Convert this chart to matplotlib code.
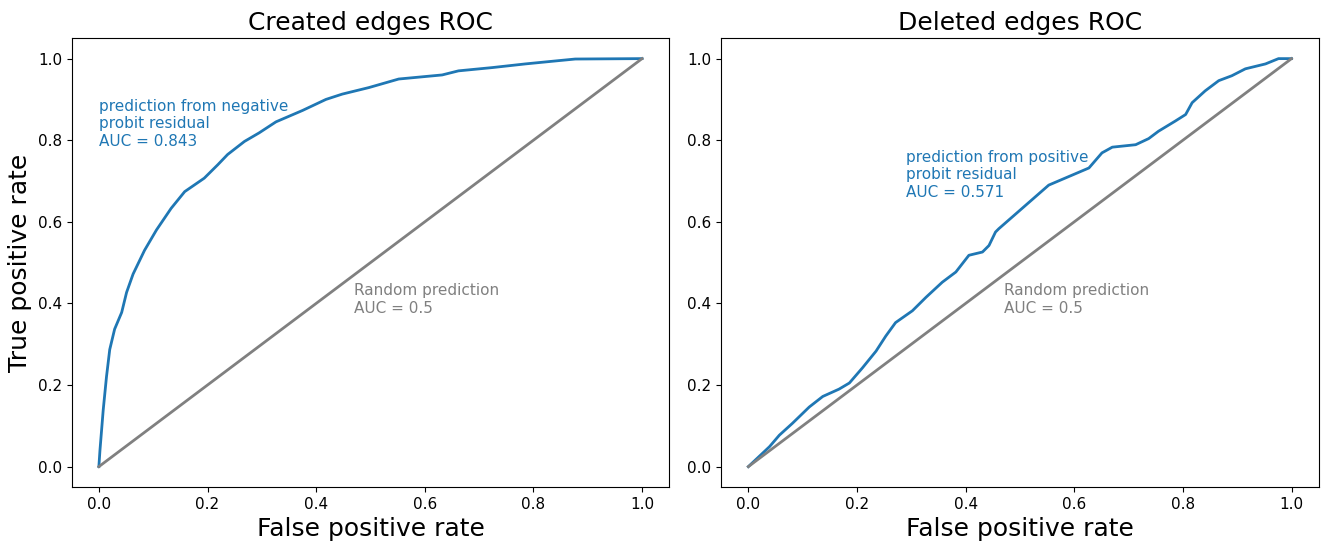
import matplotlib
matplotlib.use("Agg")
import matplotlib.pyplot as plt

# ROC of created edges (prediction from negative probit residual)
created_fpr = [0.0, 0.002, 0.008, 0.014, 0.02, 0.029, 0.042, 0.051, 0.063, 0.084, 0.106,
               0.133, 0.158, 0.194, 0.219, 0.237, 0.268, 0.295, 0.326, 0.375, 0.418,
               0.448, 0.497, 0.552, 0.632, 0.662, 0.724, 0.785, 0.846, 0.877, 1.0]
created_tpr = [0.0, 0.04, 0.139, 0.22, 0.287, 0.337, 0.378, 0.427, 0.472, 0.53, 0.58,
               0.633, 0.674, 0.707, 0.74, 0.765, 0.797, 0.818, 0.845, 0.873, 0.90,
               0.913, 0.929, 0.95, 0.96, 0.97, 0.978, 0.987, 0.995, 0.999, 1.0]

# ROC of deleted edges (prediction from positive probit residual)
deleted_fpr = [0.0, 0.039, 0.057, 0.081, 0.112, 0.137, 0.167, 0.186, 0.21, 0.235, 0.253,
               0.271, 0.302, 0.327, 0.357, 0.382, 0.406, 0.431, 0.443, 0.455, 0.461,
               0.504, 0.553, 0.59, 0.627, 0.651, 0.67, 0.713, 0.737, 0.755, 0.786,
               0.805, 0.817, 0.841, 0.866, 0.89, 0.915, 0.952, 0.976, 1.0]
deleted_tpr = [0.0, 0.049, 0.077, 0.106, 0.146, 0.172, 0.19, 0.205, 0.242, 0.283, 0.32,
               0.353, 0.382, 0.415, 0.452, 0.477, 0.518, 0.526, 0.542, 0.575, 0.583,
               0.633, 0.69, 0.711, 0.732, 0.769, 0.783, 0.789, 0.804, 0.822, 0.847,
               0.863, 0.892, 0.921, 0.946, 0.958, 0.975, 0.987, 1.0, 1.0]

blue = "#1f77b4"

plt.rcParams["xtick.labelsize"] = 11
plt.rcParams["ytick.labelsize"] = 11

fig, (ax1, ax2) = plt.subplots(1, 2, figsize=(13.28, 5.46), dpi=100)
fig.subplots_adjust(left=0.054, right=0.993, bottom=0.108, top=0.93, wspace=0.087)

ax1.plot(created_fpr, created_tpr, color=blue, lw=2)
ax1.plot([0, 1], [0, 1], color="gray", lw=2)
ax1.text(0.0, 0.84, "prediction from negative\nprobit residual\nAUC = 0.843",
         color=blue, fontsize=11, va="center", ha="left")
ax1.text(0.47, 0.41, "Random prediction\nAUC = 0.5", color="gray", fontsize=11,
         va="center", ha="left")
ax1.set_title("Created edges ROC", fontsize=18)
ax1.set_xlabel("False positive rate", fontsize=18)
ax1.set_ylabel("True positive rate", fontsize=18)

ax2.plot(deleted_fpr, deleted_tpr, color=blue, lw=2)
ax2.plot([0, 1], [0, 1], color="gray", lw=2)
ax2.text(0.29, 0.715, "prediction from positive\nprobit residual\nAUC = 0.571",
         color=blue, fontsize=11, va="center", ha="left")
ax2.text(0.47, 0.41, "Random prediction\nAUC = 0.5", color="gray", fontsize=11,
         va="center", ha="left")
ax2.set_title("Deleted edges ROC", fontsize=18)
ax2.set_xlabel("False positive rate", fontsize=18)

fig.savefig("out.png", dpi=100)
